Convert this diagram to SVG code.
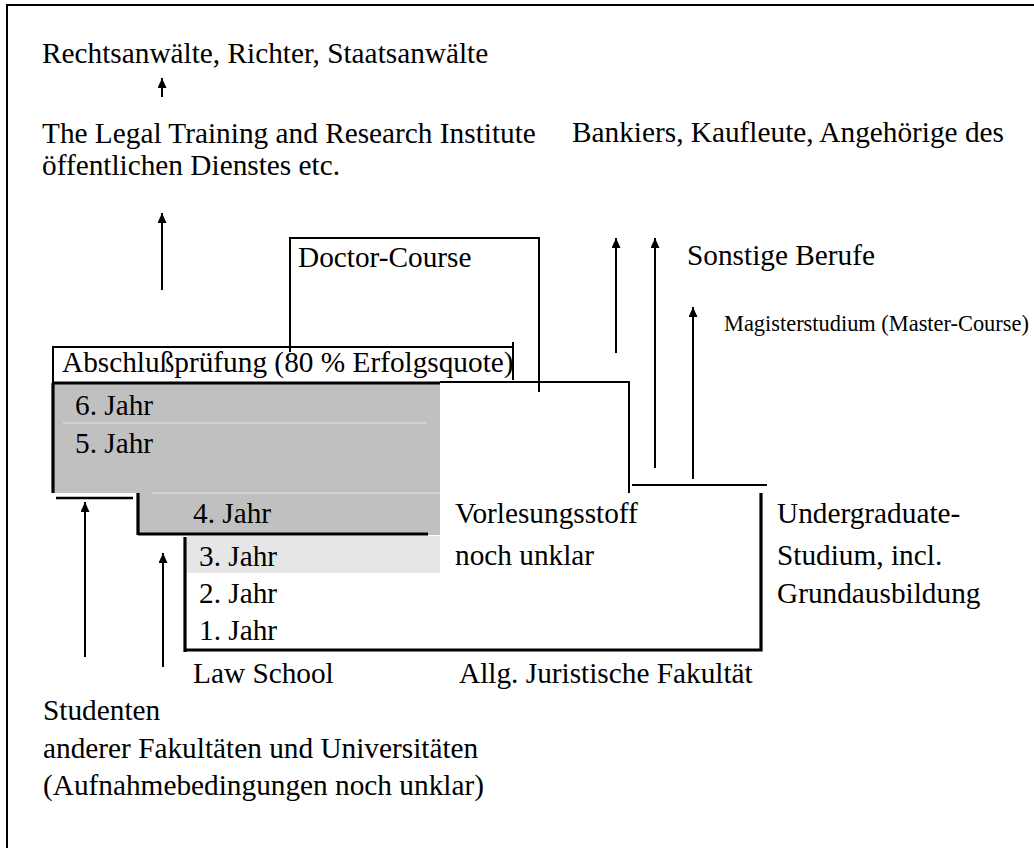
<svg xmlns="http://www.w3.org/2000/svg" width="1034" height="848" viewBox="0 0 1034 848">
<defs>
<style>
text{font-family:"Liberation Serif","Times New Roman",serif;font-size:29.3px;fill:#000}
.sm{font-size:22.4px}
.ln{stroke:#000;stroke-width:2;fill:none}
.tk{stroke:#000;stroke-width:3.2;fill:none}
.ar{stroke:#000;stroke-width:2;fill:none;marker-end:url(#ah)}
.sep{stroke:#d8d8d8;stroke-width:1.5}
</style>
<marker id="ah" markerUnits="userSpaceOnUse" markerWidth="10" markerHeight="10" refX="10" refY="4.5" orient="auto">
<path d="M0,0 L10,4.5 L0,9 z" fill="#000"/>
</marker>
</defs>
<rect width="1034" height="848" fill="#fff"/>
<path d="M7,848 V5 H1034" class="ln"/>

<g id="careers">
<text x="42" y="63">Rechtsanwälte, Richter, Staatsanwälte</text>
<text x="42" y="143">The Legal Training and Research Institute</text>
<text x="572" y="142">Bankiers, Kaufleute, Angehörige des</text>
<text x="42" y="175">öffentlichen Dienstes etc.</text>
<text x="687" y="265">Sonstige Berufe</text>
<text class="sm" x="724" y="331">Magisterstudium (Master-Course)</text>
</g>

<g id="doctor">
<path d="M290,352 V238 H539 V392" class="ln"/>
<text x="298" y="267">Doctor-Course</text>
</g>

<g id="exam">
<path d="M53,383 V347 H513" class="ln"/>
<path d="M513,342 V380" class="ln"/>
<text x="62" y="372">Abschlußprüfung (80 % Erfolgsquote)</text>
</g>

<g id="years">
<rect x="53" y="383" width="387" height="110" fill="#c0c0c0"/>
<rect x="138" y="493" width="302" height="42" fill="#c0c0c0"/>
<rect x="187" y="536" width="253" height="37" fill="#e6e6e6"/>
<path d="M63,423 H427" class="sep"/>
<path d="M152,493 H440" class="sep"/>
<path d="M53,383 H440" class="tk"/>
<path d="M53,383 V493" class="tk"/>
<path d="M56,498 H133" class="ln" style="stroke-width:2.5"/>
<path d="M138,493 V535 M138,534 H428" class="tk"/>
<path d="M185,537 V652 M185,650 H761 V493" class="tk"/>
<text x="75" y="415">6. Jahr</text>
<text x="75" y="453">5. Jahr</text>
<text x="193" y="523">4. Jahr</text>
<text x="199" y="566">3. Jahr</text>
<text x="199" y="603">2. Jahr</text>
<text x="199" y="640">1. Jahr</text>
</g>

<g id="faculty">
<path d="M440,382 H629 V493" class="ln"/>
<path d="M632,485 H767" class="ln"/>
<text x="455" y="523">Vorlesungsstoff</text>
<text x="455" y="565">noch unklar</text>
<text x="777" y="523">Undergraduate-</text>
<text x="777" y="565">Studium, incl.</text>
<text x="777" y="603">Grundausbildung</text>
<text x="193" y="683">Law School</text>
<text x="459" y="683">Allg. Juristische Fakultät</text>
</g>

<g id="students">
<text x="43" y="720">Studenten</text>
<text x="43" y="758">anderer Fakultäten und Universitäten</text>
<text x="43" y="795">(Aufnahmebedingungen noch unklar)</text>
</g>

<g id="connectors">
<path d="M162,97 V78" class="ar"/>
<path d="M162,290 V213" class="ar"/>
<path d="M616,353 V238" class="ar"/>
<path d="M655,468 V238" class="ar"/>
<path d="M693,479 V307" class="ar"/>
<path d="M85,657 V502" class="ar"/>
<path d="M163,667 V553" class="ar"/>
</g>
</svg>
